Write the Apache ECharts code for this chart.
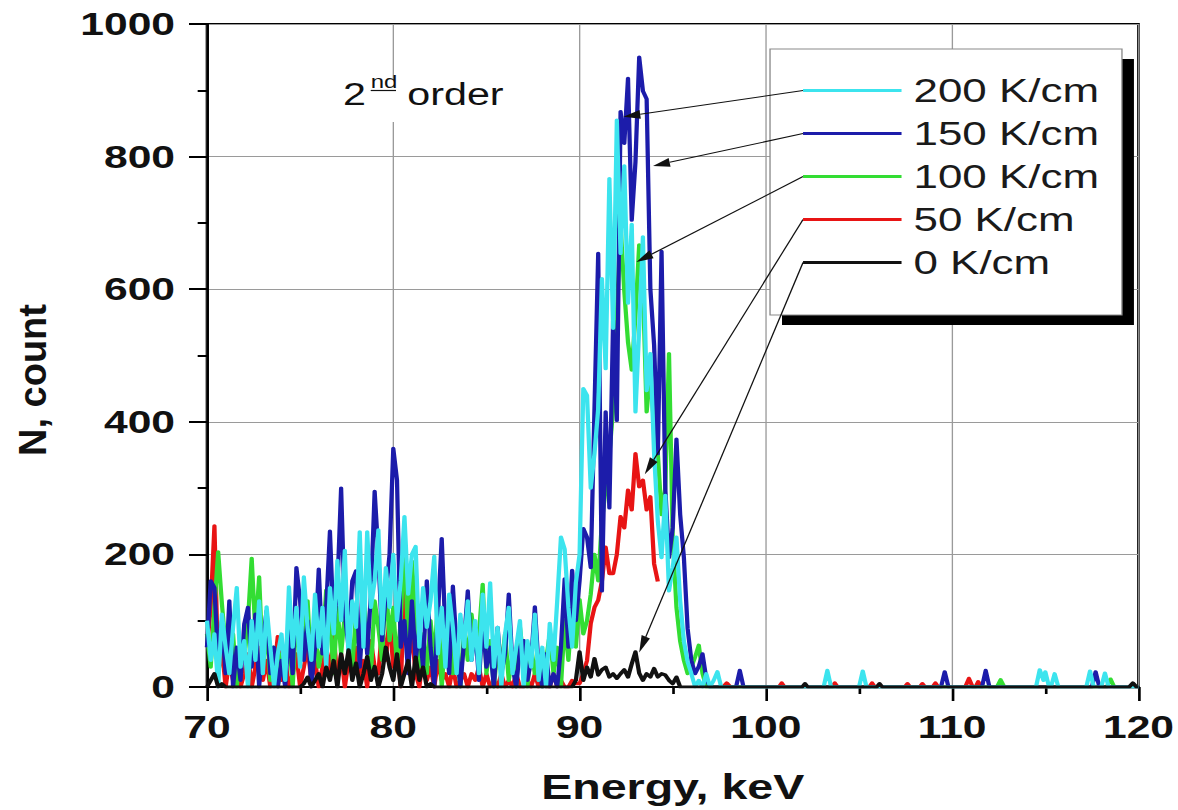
<!DOCTYPE html>
<html>
<head>
<meta charset="utf-8">
<script src="https://cdn.jsdelivr.net/npm/echarts@6/dist/echarts.min.js"></script>
<style>
  html, body { margin: 0; padding: 0; background: #fff; overflow: hidden; }
  /* the figure is laid out on an 885px canvas and widened to the 1178px page */
  #chart { width: 885px; height: 810px; transform: scaleX(1.331073); transform-origin: 0 0; }
</style>
</head>
<body>
<div id="chart"></div>
<script>
// ---- data -----------------------------------------------------------------
// Dense part of the spectra: 0.2 keV bins from 70.0 to 97.0 keV (136 bins)
const energyStart = 70.0;
const energyStep = 0.2;

const seriesNames = ['200 K/cm', '150 K/cm', '100 K/cm', '50 K/cm', '0 K/cm'];

const counts200 = [
  100, 40, 80, 0, 110, 60, 20, 90, 150, 30,       // 70.0 - 71.8
  70, 0, 100, 40, 130, 20, 121, 60, 0, 50,        // 72.0 - 73.8
  80, 10, 151, 60, 120, 30, 166, 90, 40, 140,     // 74.0 - 75.8
  60, 120, 30, 150, 80, 191, 100, 206, 40, 130,   // 76.0 - 77.8
  90, 234, 60, 234, 120, 160, 237, 80, 180, 120,  // 78.0 - 79.8
  200, 100, 160, 257, 140, 200, 212, 60, 150, 90, // 80.0 - 81.8
  130, 197, 50, 120, 30, 140, 90, 20, 110, 60,    // 82.0 - 83.8
  130, 40, 100, 20, 140, 60, 157, 30, 90, 0,      // 84.0 - 85.8
  80, 120, 20, 60, 100, 0, 70, 30, 110, 10,       // 86.0 - 87.8
  60, 0, 96, 40, 130, 226, 208, 120, 60, 157,     // 88.0 - 89.8
  200, 450, 440, 300, 352, 420, 616, 480, 767, 541, // 90.0 - 91.8
  855, 654, 786, 579, 698, 415, 541, 679, 447, 503, // 92.0 - 93.8
  352, 250, 195, 289, 145, 180, 226, 130, 69, 38, // 94.0 - 95.8
  20, 0, 10, 0, 20, 0                             // 96.0 - 97.0
];
const counts150 = [
  60, 160, 150, 40, 100, 20, 130, 0, 60, 10,
  95, 120, 30, 110, 0, 70, 115, 20, 60, 0,
  40, 0, 90, 20, 180, 130, 40, 100, 0, 60,
  178, 50, 120, 235, 90, 150, 300, 110, 60, 160,
  175, 30, 120, 50, 140, 295, 200, 70, 140, 200,
  360, 312, 60, 100, 20, 130, 40, 90, 30, 160,
  60, 0, 110, 224, 80, 20, 152, 60, 0, 70,
  145, 40, 90, 10, 100, 30, 60, 0, 90, 20,
  50, 140, 30, 0, 60, 70, 10, 40, 121, 30,
  0, 50, 0, 20, 0, 60, 163, 60, 176, 100,
  160, 239, 226, 180, 420, 654, 145, 415, 270, 553,
  402, 868, 820, 918, 704, 792, 950, 899, 887, 600,
  516, 352, 657, 300, 195, 240, 374, 260, 195, 88,
  40, 20, 31, 50, 13, 0
];
const counts100 = [
  80, 30, 120, 204, 126, 60, 20, 80, 0, 60,
  40, 100, 194, 80, 166, 30, 90, 10, 60, 0,
  50, 20, 80, 0, 110, 40, 70, 130, 20, 90,
  30, 60, 146, 100, 20, 120, 50, 110, 80, 30,
  110, 40, 150, 60, 20, 130, 90, 40, 160, 70,
  120, 30, 100, 230, 60, 190, 100, 30, 80, 20,
  100, 40, 130, 0, 80, 110, 20, 60, 0, 90,
  40, 110, 60, 80, 155, 20, 70, 0, 60, 30,
  80, 10, 50, 0, 90, 40, 0, 60, 20, 50,
  0, 40, 80, 20, 60, 0, 100, 40, 120, 60,
  132, 80, 100, 140, 200, 160, 250, 300, 350, 420,
  560, 698, 597, 520, 478, 560, 667, 604, 415, 478,
  390, 352, 260, 300, 503, 226, 120, 69, 40, 20,
  30, 45, 63, 20, 0, 0
];
const counts50 = [
  60, 120, 243, 20, 60, 0, 40, 10, 30, 0,
  20, 50, 0, 30, 60, 10, 40, 0, 20, 76,
  10, 40, 0, 20, 50, 0, 30, 60, 10, 40,
  0, 30, 60, 20, 80, 10, 50, 0, 40, 20,
  60, 10, 40, 0, 70, 30, 20, 91, 40, 106,
  30, 60, 0, 152, 40, 80, 20, 0, 50, 10,
  30, 0, 40, 10, 20, 0, 30, 0, 10, 20,
  0, 20, 10, 30, 0, 20, 0, 10, 0, 20,
  0, 10, 0, 20, 0, 0, 10, 0, 20, 0,
  10, 0, 0, 20, 0, 10, 0, 0, 10, 5,
  5, 20, 40, 96, 120, 131, 160, 211, 171, 171,
  200, 257, 240, 297, 267, 352, 302, 312, 267, 287,
  186, 159, null, null, null, null, null, null, null, null,
  null, null, null, null, null, null
];
const counts0 = [
  0, 10, 20, 0, 5, 0, 0, 0, 0, 0,
  0, 0, 0, 0, 0, 0, 0, 0, 0, 0,
  0, 0, 0, 0, 0, 0, 5, 15, 0, 10,
  20, 0, 30, 10, 40, 0, 50, 20, 56, 10,
  36, 0, 20, 46, 10, 31, 0, 20, 60, 30,
  10, 50, 0, 20, 40, 0, 45, 10, 30, 0,
  5, 0, 0, 0, 0, 0, 0, 0, 0, 0,
  0, 0, 0, 0, 0, 0, 0, 0, 0, 0,
  0, 0, 0, 0, 0, 0, 0, 0, 0, 0,
  0, 0, 0, 0, 0, 0, 0, 0, 0, 10,
  53, 10, 30, 15, 43, 18, 26, 30, 15, 20,
  13, 20, 26, 15, 35, 53, 21, 10, 20, 15,
  28, 15, 20, 18, 10, 5, 15, 0, 0, 0,
  0, 0, 0, 0, 0, 0
];

// Sparse high-energy part (97 - 120 keV): [energy, count]
const tail200 = [[97.2, 10], [97.4, 23], [97.6, 0], [103.1, 0], [103.3, 25], [103.5, 0],
  [105.0, 0], [105.2, 24], [105.4, 0], [114.5, 0], [114.7, 26], [114.9, 10], [115.0, 23],
  [115.2, 0], [115.3, 0], [115.5, 20], [115.7, 0], [117.2, 0], [117.4, 24], [117.6, 0],
  [118.0, 0], [118.2, 21], [118.4, 0], [120, 0]];
const tail150 = [[98.4, 0], [98.6, 25], [98.8, 0], [109.4, 0], [109.6, 23], [109.8, 0],
  [111.6, 0], [111.8, 25], [112.0, 0], [117.5, 0], [117.7, 23], [117.9, 0], [120, 0]];
const tail100 = [[112.4, 0], [112.6, 11], [112.8, 0], [118.3, 0], [118.5, 12], [118.7, 0], [120, 0]];
const tail50 = [[97.7, 0], [97.9, 6], [98.1, 0], [100.7, 0], [100.85, 6], [101.0, 0],
  [103.55, 0], [103.7, 6], [103.85, 0], [105.55, 0], [105.7, 6], [105.85, 0],
  [107.45, 0], [107.6, 5], [107.75, 0], [108.25, 0], [108.4, 5], [108.55, 0],
  [108.95, 0], [109.1, 6], [109.25, 0], [110.7, 0], [110.9, 13], [111.1, 0],
  [111.25, 0], [111.4, 8], [111.55, 0], [120, 0]];
const tail0 = [[101.95, 0], [102.1, 5], [102.25, 0], [105.95, 0], [106.1, 5], [106.25, 0],
  [119.5, 0], [119.7, 6], [119.9, 0], [120, 0]];

// Points (energy, count) that the legend pointers touch
const arrowTips = [[92.35, 860], [93.94, 786], [93.05, 641], [93.5, 321], [93.2, 52]];

// ---- presentation -----------------------------------------------------------
const SX = 1178 / 885;                 // horizontal widening applied by CSS
const FONT = '"Liberation Sans", Arial, sans-serif';
const colors = ['#3ce4ee', '#1c1caa', '#33dd33', '#e81414', '#111111'];

const legendLeft = 603.3, legendTop = 69, legendRow = 43;

function toPairs(vals, tail) {
  const pts = vals.map((v, i) => [+(energyStart + i * energyStep).toFixed(1), v]);
  return pts.concat(tail);
}

const spectra = [
  { name: seriesNames[0], data: toPairs(counts200, tail200), color: colors[0] },
  { name: seriesNames[1], data: toPairs(counts150, tail150), color: colors[1] },
  { name: seriesNames[2], data: toPairs(counts100, tail100), color: colors[2] },
  { name: seriesNames[3], data: toPairs(counts50, tail50), color: colors[3] },
  { name: seriesNames[4], data: toPairs(counts0, tail0), color: colors[4] }
];
// stacking order of the traces (first drawn at the bottom)
const drawOrder = [3, 2, 1, 0, 4];

const chart = echarts.init(document.getElementById('chart'), null, { renderer: 'svg' });

const axisCommon = {
  axisLine: { lineStyle: { color: '#000', width: 2 } },
  axisTick: { show: true, inside: false, lineStyle: { color: '#000', width: 2 } },
  minorTick: { show: true, splitNumber: 2, length: 7, lineStyle: { color: '#000', width: 2 } },
  splitLine: { show: true, lineStyle: { color: '#9a9a9a', width: 1 } },
  axisLabel: { fontFamily: FONT, fontSize: 32, fontWeight: 'bold', color: '#111', margin: 24,
    formatter: v => String(v) }
};

chart.setOption({
  backgroundColor: '#fff',
  animation: false,
  grid: { left: 155.5, right: 29, top: 24, bottom: 123, show: true, borderColor: '#000', borderWidth: 2, backgroundColor: 'transparent' },
  xAxis: Object.assign({}, axisCommon, {
    type: 'value', min: 70, max: 120, interval: 10,
    axisTick: Object.assign({}, axisCommon.axisTick, { length: 14 }),
    name: 'Energy, keV', nameLocation: 'middle', nameGap: 83,
    nameTextStyle: { fontFamily: FONT, fontSize: 35, fontWeight: 'bold', color: '#111' }
  }),
  yAxis: Object.assign({}, axisCommon, {
    type: 'value', min: 0, max: 1000, interval: 200,
    axisTick: Object.assign({}, axisCommon.axisTick, { length: 13.5 })
  }),
  legend: {
    data: seriesNames, orient: 'vertical', left: legendLeft, top: legendTop,
    padding: 0, itemGap: 0, itemWidth: 74, itemHeight: 3, icon: 'rect',
    selectedMode: false, z: 6,
    textStyle: { fontFamily: FONT, fontSize: 33, color: '#1a1a1a', lineHeight: legendRow, padding: [0, 0, 0, 4] }
  },
  series: drawOrder.map(k => ({
    type: 'line', name: spectra[k].name, data: spectra[k].data, color: spectra[k].color,
    showSymbol: false, symbol: 'none', connectNulls: false,
    lineStyle: { width: 3.2, color: spectra[k].color, join: 'round' }
  }))
});

// ---- annotations: legend frame, label and pointer arrows --------------------
const graphics = [
  { type: 'rect', z: 3, z2: 0, shape: { x: 587.5, y: 59, width: 264.4, height: 266 }, style: { fill: '#000' } },
  { type: 'rect', z: 3, z2: 1, shape: { x: 578.5, y: 49, width: 264.4, height: 266 }, style: { fill: '#fff', stroke: '#8a8a8a', lineWidth: 1 } },
  { type: 'rect', z: 3, shape: { x: 251.7, y: 80, width: 139, height: 42 }, style: { fill: '#fff' } },
  { type: 'text', z: 4, x: 257.7, y: 94, style: { text: '2', font: 'normal 31px ' + FONT, fill: '#111', align: 'left', verticalAlign: 'middle' } },
  { type: 'text', z: 4, x: 278.5, y: 82, style: { text: 'nd', font: 'normal 18px ' + FONT, fill: '#111', align: 'left', verticalAlign: 'middle' } },
  { type: 'line', z: 4, shape: { x1: 278.5, y1: 90.5, x2: 297.5, y2: 90.5 }, style: { stroke: '#111', lineWidth: 1.2 } },
  { type: 'text', z: 4, x: 306, y: 94, style: { text: 'order', font: 'normal 31px ' + FONT, fill: '#111', align: 'left', verticalAlign: 'middle' } },
  { type: 'text', z: 4, x: 24, y: 380, rotation: Math.PI / 2, scaleY: 0.77,
    style: { text: 'N, count', font: 'bold 38px ' + FONT, fill: '#111', align: 'center', verticalAlign: 'middle' } }
];

arrowTips.forEach((tipData, k) => {
  const tip = chart.convertToPixel({ gridIndex: 0 }, tipData);
  const start = [legendLeft, legendTop + legendRow * (k + 0.5)];
  // arrow head built in page space so its shape survives the widening
  const dx = (tip[0] - start[0]) * SX, dy = tip[1] - start[1];
  const len = Math.hypot(dx, dy), ux = dx / len, uy = dy / len;
  const headLen = 17, headHalf = 4.5;
  const bx = tip[0] * SX - ux * headLen, by = tip[1] - uy * headLen;
  const p1 = [(bx - uy * headHalf) / SX, by + ux * headHalf];
  const p2 = [(bx + uy * headHalf) / SX, by - ux * headHalf];
  graphics.push({ type: 'line', z: 5, shape: { x1: start[0], y1: start[1], x2: bx / SX, y2: by }, style: { stroke: '#111', lineWidth: 1 } });
  graphics.push({ type: 'polygon', z: 5, shape: { points: [tip, p1, p2] }, style: { fill: '#111' } });
});

chart.setOption({ graphic: graphics });
</script>
</body>
</html>
